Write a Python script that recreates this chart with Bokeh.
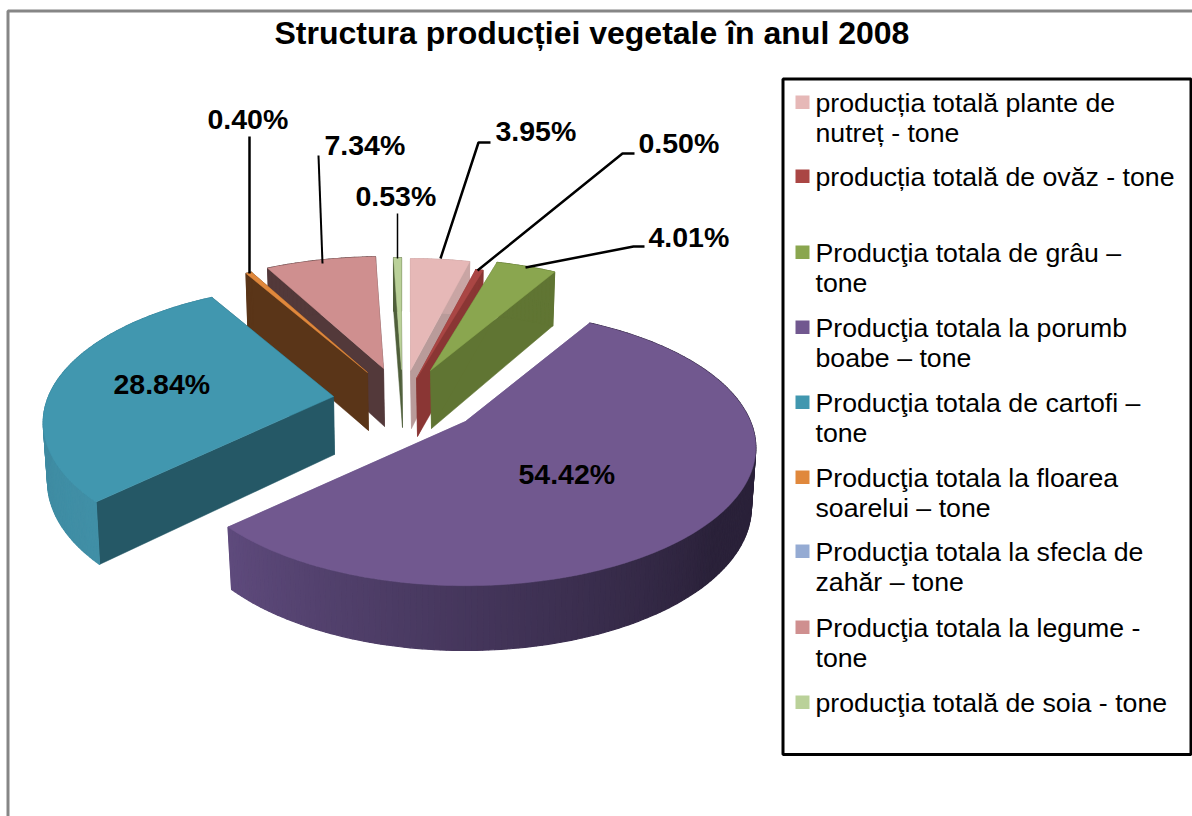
import math
from bokeh.plotting import figure
from bokeh.core.properties import value
from bokeh.embed import file_html
from bokeh.resources import INLINE

# ---- chart data -----------------------------------------------------------
title = "Structura producției vegetale în anul 2008"
categories = [
    "producția totală plante de\nnutreț - tone",
    "producția totală de ovăz - tone",
    "Producţia totala de grâu  –\ntone",
    "Producţia totala la porumb\nboabe – tone",
    "Producţia totala de cartofi –\ntone",
    "Producţia totala la floarea\nsoarelui – tone",
    "Producţia totala la sfecla de\nzahăr – tone",
    "Producţia totala la legume -\ntone",
    "producţia totală de soia - tone",
]
shares = [3.95, 0.50, 4.01, 54.42, 28.84, 0.40, 0.00, 7.34, 0.53]
top_colors = ["#e6b8b7", "#aa4644", "#8aa64f", "#71588f", "#4197af", "#e0883c", "#95abd3", "#cf8f8f", "#bad199"]
face_colors = ["#b99b9a", "#8a3634", "#607533", "#71588f", "#255866", "#5a3518", "#95abd3", "#53393a", "#4f5f3a"]
rim_from = ["#c9a5a4", "#8a3634", "#607533", "#2a2139", "#408fa6", "#5a3518", "#95abd3", "#53393a", "#4f5f3a"]
rim_to = ["#c9a5a4", "#8a3634", "#607533", "#5e4a7c", "#3a8298", "#5a3518", "#95abd3", "#53393a", "#4f5f3a"]

# ---- layout (page pixels) -------------------------------------------------
apexes = [(410, 370), (416, 378), (430, 370), (465, 421), (333, 396), (367, 372), (383, 369), (383, 368), (401, 369)]
draw_order = [7, 5, 4, 8, 0, 1, 2, 3]
A, B, K, H = 285, 133, 0.19, 58
label_pos = [(495, 141), (638, 153), (648, 247), (518, 484), (113, 394), (207, 129), None, (324, 155), (355, 206)]
leaders = {
    0: [(440, 258), (478, 142), (490, 142)],
    1: [(477, 270), (622, 153), (634, 153)],
    2: [(525, 267), (633, 246), (644, 246)],
    5: [(249, 273), (249, 136)],
    7: [(322, 263), (318, 155)],
    8: [(397, 258), (397, 213)],
}
leader_widths = {0: 2.5, 1: 2.5, 2: 2.5, 5: 2.5, 7: 2, 8: 1.5}
legend_rows = [112, 186, 262, 337, 412, 487, 561, 637, 712]
LIFT = 0.37  # baseline compensation, in em

p = figure(width=1192, height=816, x_range=(0, 1192), y_range=(816, 0),
           toolbar_location=None, output_backend="svg", min_border=0,
           background_fill_color="white", border_fill_color="white")
p.axis.visible = False
p.grid.visible = False
p.outline_line_color = None


def proj(theta, apex, z=0.0):
    u, v = math.sin(theta), math.cos(theta)
    s = 1 / (1 + K * v)
    return apex[0] + A * u * s * (1 - 0.015 * z), apex[1] - B * v * s + H * (1 + (s - 1) * 0.5) * z


def mix(c0, c1, t):
    a = [int(c0[i:i + 2], 16) for i in (1, 3, 5)]
    b = [int(c1[i:i + 2], 16) for i in (1, 3, 5)]
    return "#%02x%02x%02x" % tuple(round(a[i] + (b[i] - a[i]) * t) for i in range(3))


total = sum(shares)
starts, c = [], 0.0
for s_ in shares:
    starts.append(c / total * 2 * math.pi)
    c += s_

for i in draw_order:
    t0 = starts[i]
    t1 = t0 + shares[i] / total * 2 * math.pi
    ap = apexes[i]
    for th in (t1, t0):
        pts = [proj(th, ap), ap, (ap[0] + 1, ap[1] + H), proj(th, ap, 1)]
        p.patch([q[0] for q in pts], [q[1] for q in pts], fill_color=face_colors[i], line_color=face_colors[i], line_width=0.5)
    n = max(2, int((t1 - t0) / math.radians(1.0)))
    xs, ys, cols = [], [], []
    for j in range(n):
        a0 = t0 + (t1 - t0) * j / n
        a1 = t0 + (t1 - t0) * (j + 1) / n
        pts = [proj(a0, ap), proj(a1, ap), proj(a1, ap, 1), proj(a0, ap, 1)]
        xs.append([q[0] for q in pts])
        ys.append([q[1] for q in pts])
        mid = (a0 + a1) / 2
        if i == 3:
            t = min(1.0, max(0.0, (math.degrees(mid) - 130) / 96))
        else:
            t = j / n
        cols.append(mix(rim_from[i], rim_to[i], t))
    p.patches(xs, ys, fill_color=cols, line_color=cols, line_width=1.2)
    m = max(3, n)
    arc = [proj(t0 + (t1 - t0) * j / m, ap) for j in range(m + 1)]
    pts = [ap] + arc
    p.patch([q[0] for q in pts], [q[1] for q in pts], fill_color=top_colors[i], line_color=top_colors[i], line_width=0.5)

for i, pts in leaders.items():
    p.line([q[0] for q in pts], [q[1] for q in pts], line_color="black", line_width=leader_widths[i])

LAB = 28.5
lab = [(pos[0], pos[1] - LIFT * LAB, f"{v:.2f}%") for v, pos in zip(shares, label_pos) if pos is not None]
p.text([q[0] for q in lab], [q[1] for q in lab], text=[q[2] for q in lab],
       text_font=value("Liberation Sans"), text_font_style="bold", text_font_size=f"{LAB}px",
       text_color="black", text_align="left", text_baseline="alphabetic")

TIT = 32
p.text([274], [44 - LIFT * TIT], text=[title], text_font=value("Liberation Sans"), text_font_style="bold",
       text_font_size=f"{TIT}px", text_color="black", text_align="left", text_baseline="alphabetic")

p.quad(left=[782.5], right=[1190.5], top=[78.5], bottom=[754], fill_color="white", line_color="black", line_width=3)
LEG = 26.7
lx, ly, lt = [], [], []
for row, cat in zip(legend_rows, categories):
    for k, line in enumerate(cat.split("\n")):
        lx.append(815)
        ly.append(row + 30 * k - LIFT * LEG)
        lt.append(line)
p.quad(left=[795] * 9, right=[809] * 9, top=[r - 17 for r in legend_rows], bottom=[r - 3.5 for r in legend_rows],
       fill_color=top_colors, line_color=None)
p.text(lx, ly, text=lt, text_font=value("Liberation Sans"), text_font_size=f"{LEG}px", text_color="black",
       text_align="left", text_baseline="alphabetic")

p.line([7.5, 7.5, 1192], [816, 10.5, 10.5], line_color="#868686", line_width=3)

open("out.html", "w").write(file_html(p, INLINE))
